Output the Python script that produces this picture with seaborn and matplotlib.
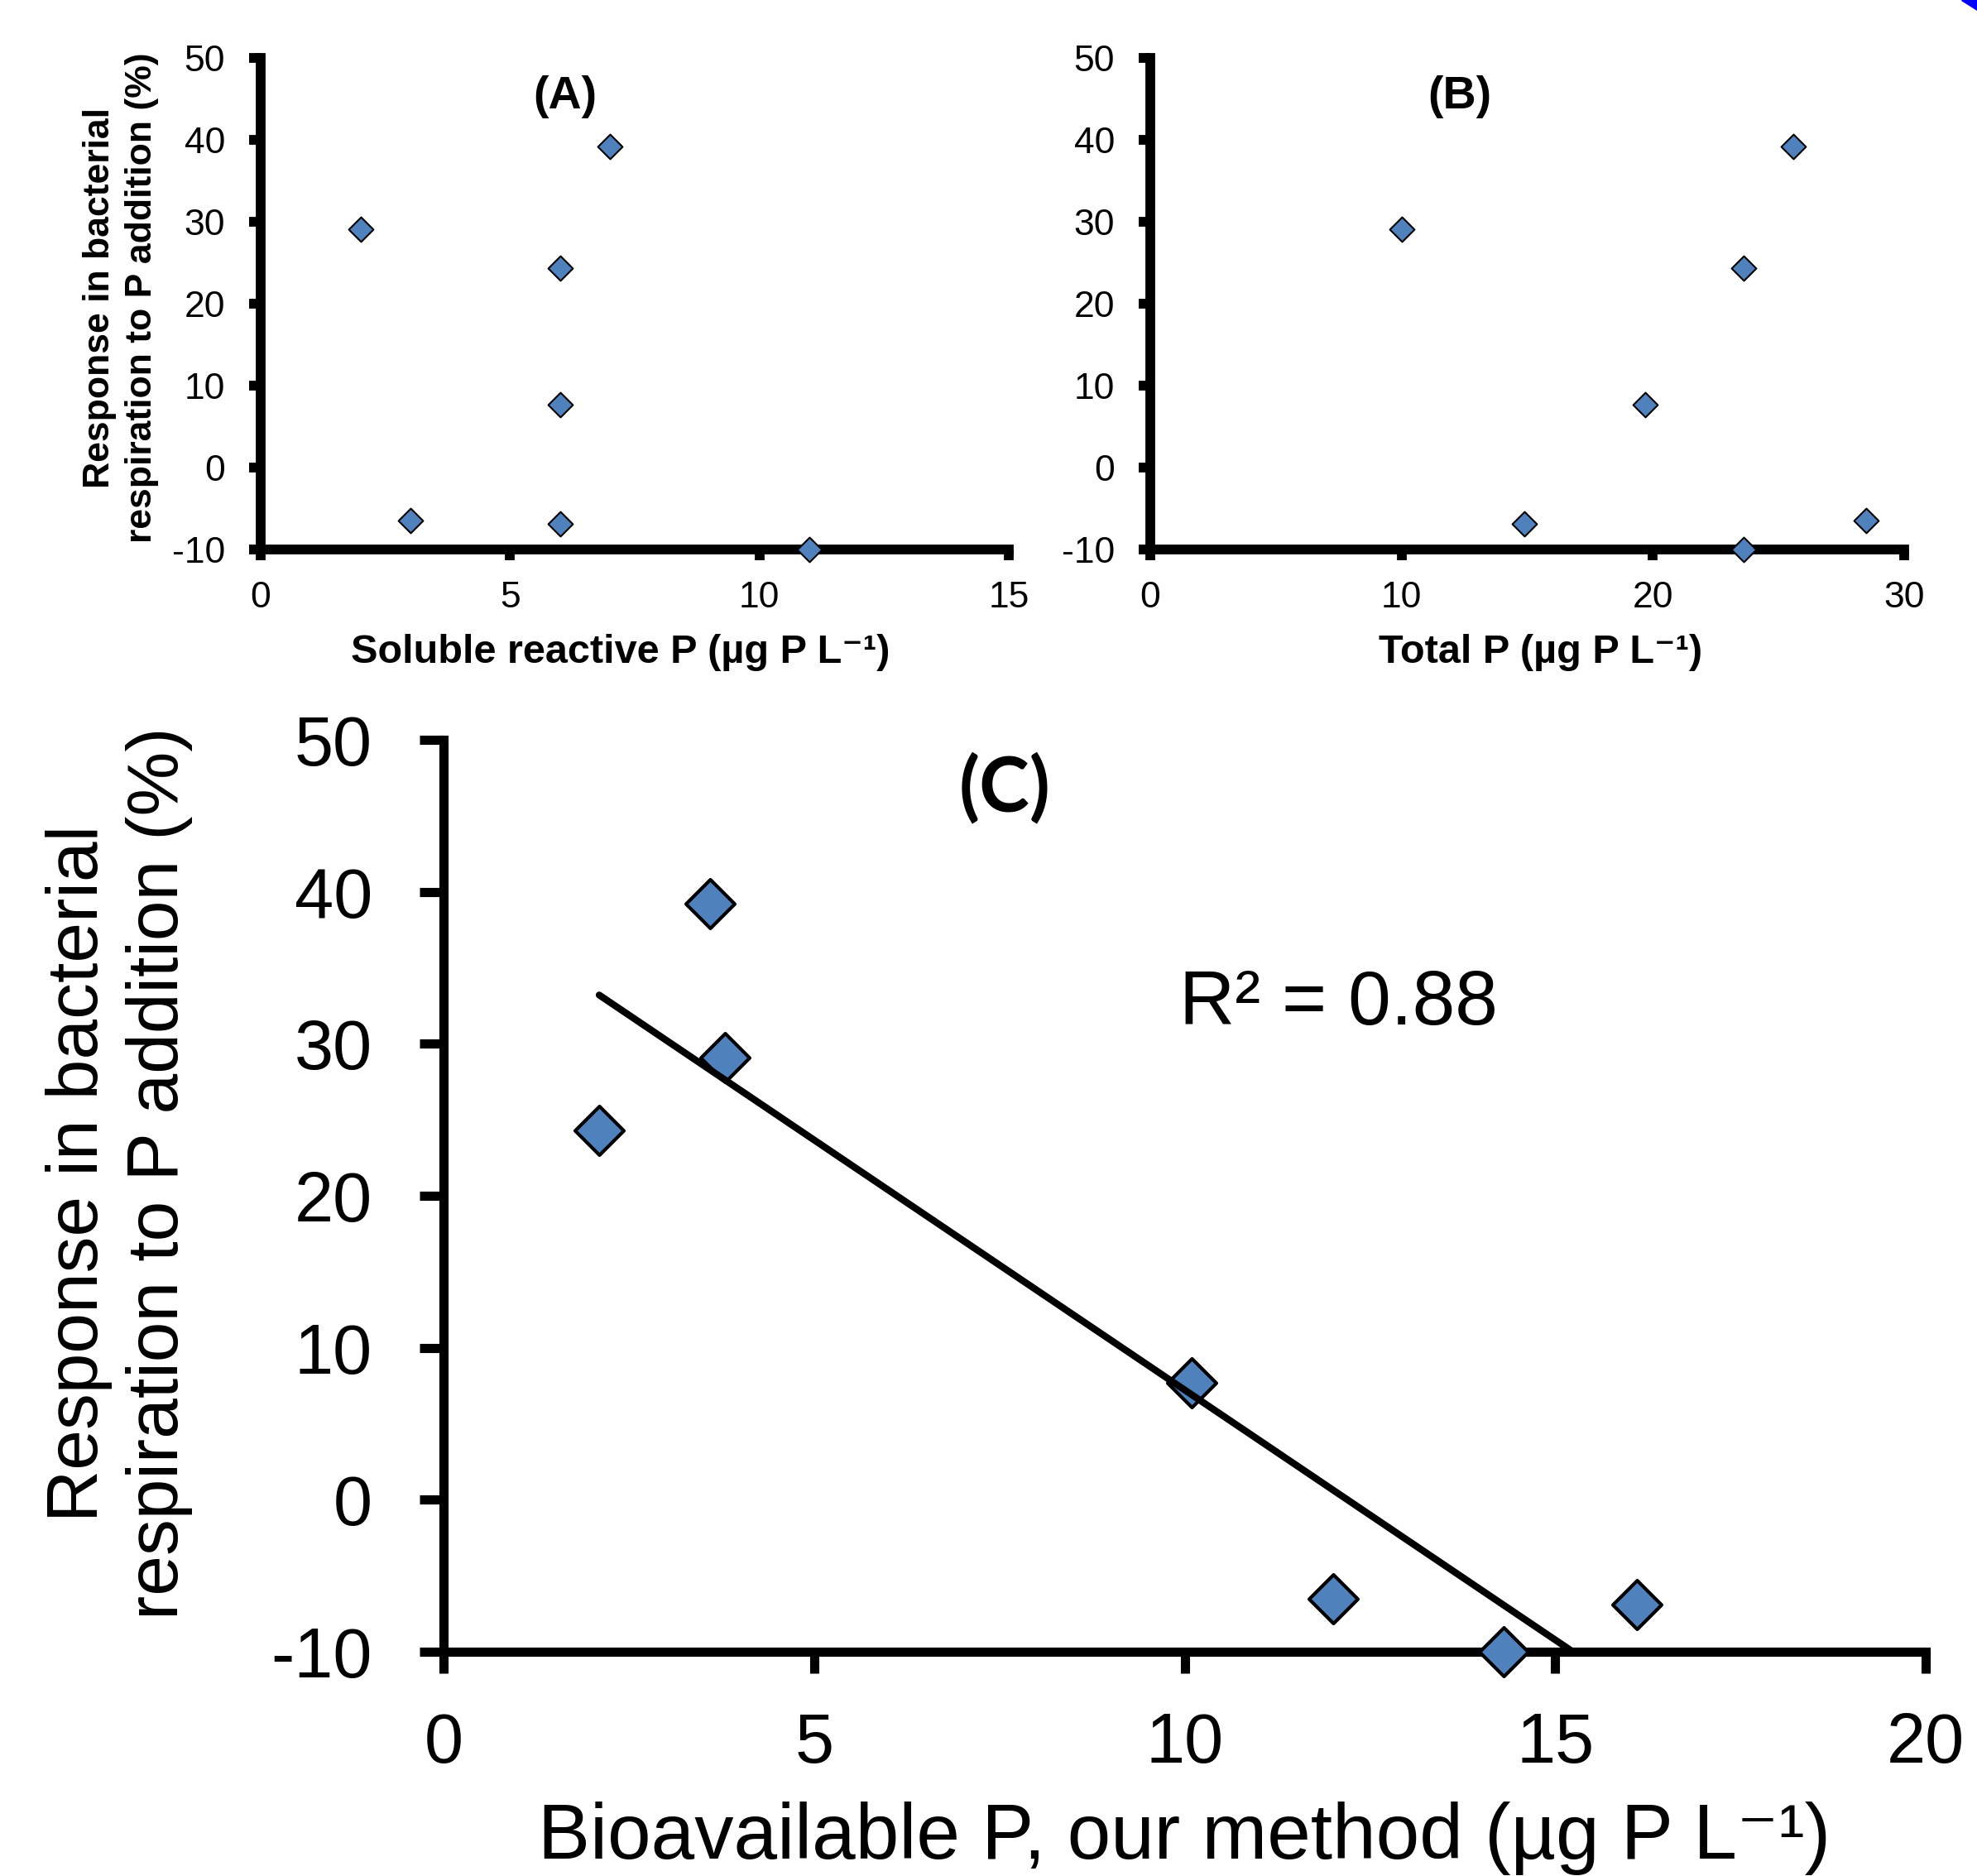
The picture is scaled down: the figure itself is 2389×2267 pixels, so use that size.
import numpy as np
import pandas as pd
import seaborn as sns
import matplotlib.pyplot as plt
from matplotlib.patches import Polygon

# resposta da respiracao bacteriana a adicao de P (%), um valor por local
resposta = [29.1, -6.5, 24.3, 7.7, -6.9, 39.2, -10.0]
srp = [2.0, 3.0, 6.0, 6.0, 6.0, 7.0, 11.0]          # soluble reactive P
tp = [10.0, 28.5, 23.6, 19.7, 14.9, 25.6, 23.6]     # total P
bioP = [3.8, 12.0, 2.1, 10.1, 16.1, 3.6, 14.3]      # bioavailable P, our method

xticks_a = [0, 5, 10, 15]
xticks_b = [0, 10, 20, 30]
xticks_c = [0, 5, 10, 15, 20]
yticks = [-10, 0, 10, 20, 30, 40, 50]
r2_text = "R² = 0.88"

df = pd.DataFrame({"resp": resposta, "srp": srp, "tp": tp, "bio": bioP})

sns.set_style("ticks")
plt.rcParams['font.family'] = ['Liberation Sans', 'DejaVu Sans']
plt.rcParams['axes.unicode_minus'] = False
for k in ['text.color', 'axes.labelcolor', 'xtick.color', 'ytick.color', 'axes.edgecolor']:
    plt.rcParams[k] = 'black'

azul = '#4F81BD'
W, H = 2389, 2267
fig = plt.figure(figsize=(W / 100, H / 100), dpi=100)

def ax_px(left, right, top, bottom):
    # converte pixels da imagem em fracoes da figura
    return fig.add_axes([left / W, 1 - bottom / H, (right - left) / W, (bottom - top) / H])

axA = ax_px(315, 1219, 70, 664)
axB = ax_px(1390, 2301, 70, 664)
axC = ax_px(536, 2327, 894, 1996)

def estilo(ax, lw, tlx, tly, padx, pady, fs):
    for s in ['top', 'right']:
        ax.spines[s].set_visible(False)
    for s in ['left', 'bottom']:
        ax.spines[s].set_linewidth(lw)
        ax.spines[s].set_color('black')
    ax.tick_params(axis='x', direction='out', length=tlx, width=lw, pad=padx,
                   labelsize=fs, color='black', labelcolor='black')
    ax.tick_params(axis='y', direction='out', length=tly, width=lw, pad=pady,
                   labelsize=fs, color='black', labelcolor='black')
    ax.set_ylim(-10, 50)
    ax.set_yticks(yticks)
    ax.set_facecolor('white')

unidade = '(µg P L⁻¹)'

# (A) e (B)
for ax, col, xt, lab, letra, xletra, xlab_pos in [
        (axA, 'srp', xticks_a, 'Soluble reactive P ' + unidade, '(A)', 6.1, 0.481),
        (axB, 'tp', xticks_b, 'Total P ' + unidade, '(B)', 12.3, 0.518)]:
    sns.scatterplot(data=df, x=col, y='resp', ax=ax, marker='D', s=230, color=azul,
                    edgecolor='black', linewidth=1.5, zorder=3, clip_on=False)
    estilo(ax, 8.5, 9, 10, 18, 21, 32)
    ax.set_xlim(xt[0], xt[-1])
    ax.set_xticks(xt)
    ax.set_xlabel(lab, fontsize=35, fontweight='bold', va='center')
    ax.xaxis.set_label_coords(xlab_pos, -0.209)
    ax.text(xletra, 45.3, letra, fontsize=40, fontweight='bold', ha='center', va='center')

axA.set_ylabel('Response in bacterial\nrespiration to P addition (%)', fontsize=32,
               fontweight='bold', va='center', ha='center', linespacing=1.3)
axA.yaxis.set_label_coords(-0.187, 0.512)
axB.set_ylabel('')

# (C)
sns.regplot(data=df, x='bio', y='resp', ax=axC, ci=None, scatter=False, truncate=True,
            line_kws={'color': 'black', 'lw': 6, 'zorder': 4})
sns.scatterplot(data=df, x='bio', y='resp', ax=axC, marker='D', s=900, color=azul,
                edgecolor='black', linewidth=3, zorder=3, clip_on=False)
estilo(axC, 8, 19, 21, 33, 41, 61)
axC.set_xlim(0, 20)
axC.set_xticks(xticks_c)
axC.set_xlabel('Bioavailable P, our method ' + unidade, fontsize=68, va='center')
axC.xaxis.set_label_coords(0.5, -0.205)
axC.set_ylabel('Response in bacterial\nrespiration to P addition (%)', fontsize=63,
               va='center', ha='center', linespacing=1.25)
axC.yaxis.set_label_coords(-0.219, 0.525)
axC.text(7.57, 46.8, '(C)', fontsize=66, fontweight='bold', family=['Lato', 'DejaVu Sans'],
         ha='center', va='center')
axC.text(12.08, 32.6, r2_text, fontsize=67, ha='center', va='center')

# canto azul no topo direito
fig.add_artist(Polygon([[2370 / W, 1], [1, 1], [1, 1 - 12 / H]], closed=True,
                       transform=fig.transFigure, color='blue'))

fig.savefig('out.png', dpi=100, facecolor='white')
